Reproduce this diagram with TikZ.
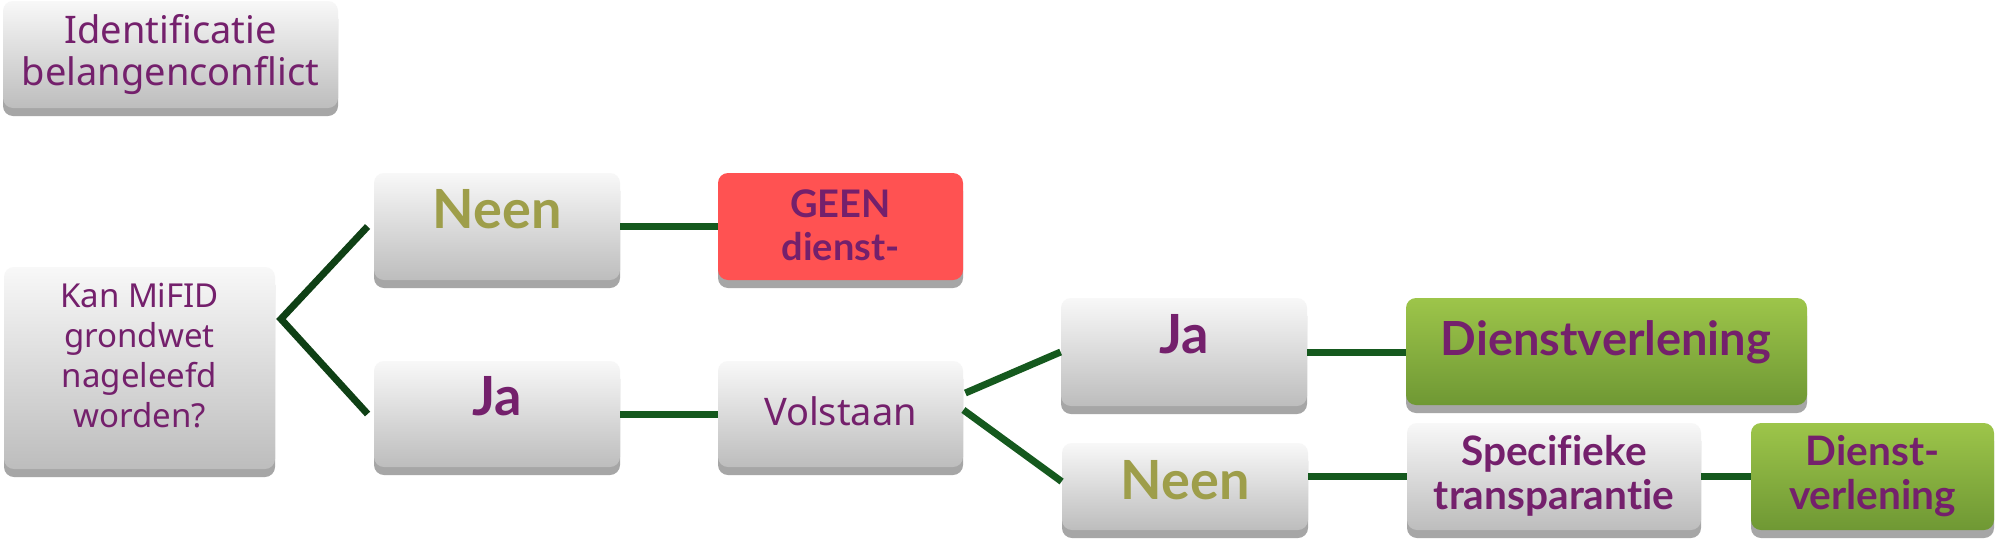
\documentclass[tikz,border=0pt]{standalone}
\usepackage{fontspec}
\setmainfont{Noto Sans}
\newfontfamily\fa[Ligatures=NoCommon]{Noto Sans}
\newfontfamily\lb[Ligatures=NoCommon]{Lato}
\definecolor{purp}{HTML}{74206C}
\definecolor{olive}{HTML}{9E9E4A}
\definecolor{boxtop}{HTML}{F8F8F8}
\definecolor{boxbot}{HTML}{BDBDBD}
\definecolor{greentop}{HTML}{9DC54A}
\definecolor{greenbot}{HTML}{6F9834}
\definecolor{redc}{HTML}{FF5252}
\definecolor{shadowc}{HTML}{A6A6A6}
\definecolor{linegreen}{HTML}{15591E}
\definecolor{darkline}{HTML}{0F4015}
\tikzset{
  graybox/.style={rounded corners=5pt, top color=boxtop, bottom color=boxbot, inner sep=0pt},
  greenbox/.style={rounded corners=5pt, top color=greentop, bottom color=greenbot, inner sep=0pt},
  redbox/.style={rounded corners=5pt, fill=redc, inner sep=0pt},
  shad/.style={fill=shadowc, rounded corners=5pt},
  conn/.style={line width=3.5pt, draw=linegreen},
  vconn/.style={line width=3.5pt, draw=darkline, line join=miter},
  txt/.style={text=purp, anchor=base, inner sep=0pt},
}
\newcommand\mkbox[6]{%
  \fill[shad] (#2,#3+8) rectangle (#4,#5+8);
  \node[#6, minimum width={(#4-#2)*0.5pt}, minimum height={(#5-#3)*0.5pt}] (#1) at ({(#2+#4)/2},{(#3+#5)/2}) {};
}
\begin{document}
\begin{tikzpicture}[x=0.5pt,y=-0.5pt]
\fill[white] (0,0) rectangle (2000,541);
\useasboundingbox (0,0) rectangle (2000,541);
% boxes
\mkbox{ident}{3}{1}{338}{108}{graybox}
\mkbox{kan}{4}{267}{275}{469}{graybox}
\mkbox{neen}{374}{173}{620}{280}{graybox}
\mkbox{ja}{374}{361}{620}{467}{graybox}
\mkbox{geen}{718}{173}{963}{280}{redbox}
\mkbox{volst}{718}{361}{963}{467}{graybox}
\mkbox{jatwo}{1061}{298}{1307}{406}{graybox}
\mkbox{dienst}{1406}{298}{1807}{405}{greenbox}
\mkbox{neentwo}{1062}{443}{1308}{530}{graybox}
\mkbox{spec}{1407}{423}{1701}{530}{graybox}
\mkbox{diensttwo}{1751}{423}{1994}{530}{greenbox}
% texts
\node[txt, font=\fa\fontsize{19}{21}\selectfont] (tident) at (170.5,43) {\parbox[t]{220pt}{\centering Identificatie\\belangenconflict}};
\node[txt, font=\fa\fontsize{16.5}{20}\selectfont] (tkan) at (139.5,307) {\parbox[t]{130pt}{\centering Kan MiFID\\grondwet\\nageleefd\\worden?}};
\node[txt, text=olive, font=\lb\bfseries\fontsize{27}{30}\selectfont] (tneen) at (497,228) {Neen};
\node[txt, font=\lb\bfseries\fontsize{27}{30}\selectfont] (tja) at (497,415) {Ja};
\node[txt, font=\lb\bfseries\fontsize{19}{21.5}\selectfont] (tgeen) at (840.5,217) {\parbox[t]{120pt}{\centering GEEN\\dienst-}};
\node[txt, font=\fa\fontsize{19}{21}\selectfont] (tvolst) at (840.5,425) {Volstaan};
\node[txt, font=\lb\bfseries\fontsize{27}{30}\selectfont] (tjatwo) at (1184,353) {Ja};
\node[txt, font=\lb\bfseries\fontsize{23.5}{26}\selectfont] (tdienst) at (1606,355) {Dienstverlening};
\node[txt, text=olive, font=\lb\bfseries\fontsize{27}{30}\selectfont] (tneentwo) at (1185,499) {Neen};
\node[txt, font=\lb\bfseries\fontsize{20.3}{22}\selectfont] (tspec) at (1554,465) {\parbox[t]{150pt}{\centering Specifieke\\transparantie}};
\node[txt, font=\lb\bfseries\fontsize{20.3}{22}\selectfont] (tdiensttwo) at (1872.5,465) {\parbox[t]{120pt}{\centering Dienst-\\verlening}};
% connectors
\coordinate (v1) at (281,319);
\draw[vconn] ([xshift=-3pt]neen.west) -- (v1) -- ([xshift=-3pt]ja.west);
\draw[conn] (neen.east) -- (neen.east -| geen.west);
\draw[conn] (ja.east) -- (ja.east -| volst.west);
\draw[conn] ([shift={(1pt,10.5pt)}]volst.east) -- (jatwo.west);
\draw[conn] ([yshift=2pt]volst.east) -- ([yshift=2.5pt]neentwo.west);
\draw[conn] (jatwo.east) -- (jatwo.east -| dienst.west);
\draw[conn] (neentwo.east |- spec.west) -- (spec.west);
\draw[conn] (spec.east) -- (diensttwo.west);
\end{tikzpicture}
\end{document}
